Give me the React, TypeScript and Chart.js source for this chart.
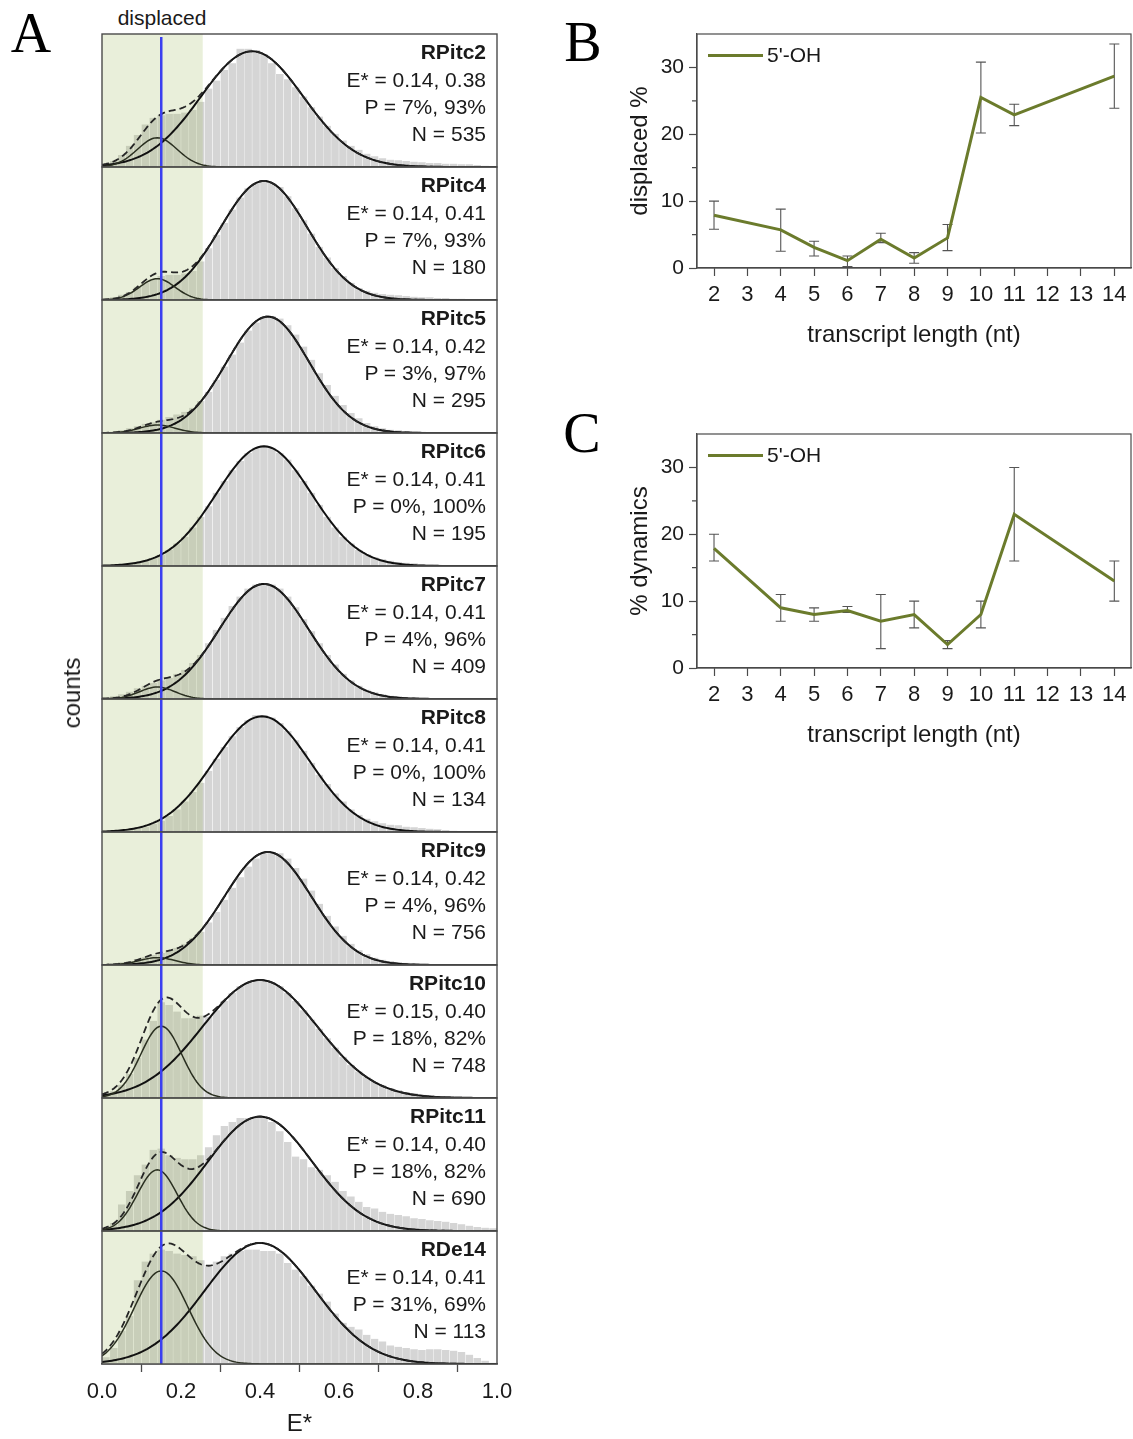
import React, { useEffect, useRef } from "react";
import { Chart, registerables } from "chart.js";

Chart.register(...registerables);

const SANS = "'Liberation Sans', Arial, Helvetica, sans-serif";
const SERIF = "'Liberation Serif', 'Times New Roman', serif";
const OLIVE = "#6b7b2c";
const AXIS = "#4a4a4a";
const TEXT = "#1a1a1a";

// ---------------- Panel A data ----------------
const panelNames = ["RPitc2", "RPitc4", "RPitc5", "RPitc6", "RPitc7", "RPitc8", "RPitc9", "RPitc10", "RPitc11", "RDe14"];
const panelEstar = ["0.14, 0.38", "0.14, 0.41", "0.14, 0.42", "0.14, 0.41", "0.14, 0.41", "0.14, 0.41", "0.14, 0.42", "0.15, 0.40", "0.14, 0.40", "0.14, 0.41"];
const panelPop = ["7%, 93%", "7%, 93%", "3%, 97%", "0%, 100%", "4%, 96%", "0%, 100%", "4%, 96%", "18%, 82%", "18%, 82%", "31%, 69%"];
const panelN = [535, 180, 295, 195, 409, 134, 756, 748, 690, 113];

const binCenters = [0.01, 0.03, 0.05, 0.07, 0.09, 0.11, 0.13, 0.15, 0.17, 0.19, 0.21, 0.23, 0.25, 0.27, 0.29, 0.31, 0.33, 0.35, 0.37, 0.39, 0.41, 0.43, 0.45, 0.47, 0.49, 0.51, 0.53, 0.55, 0.57, 0.59, 0.61, 0.63, 0.65, 0.67, 0.69, 0.71, 0.73, 0.75, 0.77, 0.79, 0.81, 0.83, 0.85, 0.87, 0.89, 0.91, 0.93, 0.95, 0.97, 0.99];

// relative counts (% of panel height)
const histRPitc2 = [3, 4.5, 9, 16, 24, 32, 37, 39, 40, 40, 41, 43, 49, 59, 65, 73, 78, 89, 89, 88, 85, 78, 70, 66, 60, 53, 45, 38, 31, 25, 20, 16, 13, 10, 8, 6.5, 5.5, 5, 4.5, 4, 3.5, 3, 3, 2.5, 2.5, 2, 2, 1.5, 1, 0.5];
const histRPitc4 = [1, 2, 4, 6, 10, 13, 16, 18, 19, 19, 20, 22, 29, 39, 49, 58, 68, 77, 84, 88, 90, 88, 85, 78, 69, 60, 50, 40, 32, 24, 18, 13, 9, 7, 5.5, 4.5, 4, 3.5, 3, 2.5, 2, 2, 1.5, 1.5, 1, 1, 0.8, 0.5, 0.3, 0];
const histRPitc5 = [0.5, 1, 2, 3.5, 5, 7, 8, 10, 12, 14, 16, 19, 24, 31, 40, 50, 59, 68, 77, 83, 87, 88, 86, 81, 74, 65, 55, 45, 36, 28, 21, 15, 11, 7.5, 5, 3.5, 2.5, 2, 1.5, 1.2, 1, 0.8, 0.6, 0.5, 0.4, 0.3, 0.2, 0.1, 0, 0];
const histRPitc6 = [0.4, 0.6, 1, 1.6, 2.6, 4, 6, 8.6, 12, 17, 22, 29, 37, 45, 55, 64, 72, 79, 85, 89, 91, 89, 85, 80, 72, 64, 55, 46, 37, 29, 22, 17, 12, 9, 6.5, 5, 4, 3, 2.5, 2, 1.5, 1.2, 1, 0.8, 0.6, 0.4, 0.3, 0.2, 0.1, 0];
const histRPitc7 = [1, 2, 3.5, 5.5, 8, 10, 12, 14, 16, 19, 22, 27, 33, 42, 52, 61, 70, 77, 83, 86, 87, 86, 83, 77, 69, 60, 51, 42, 33, 26, 19, 14, 10, 7, 5, 3.5, 2.5, 2, 1.5, 1.2, 1, 0.8, 0.6, 0.5, 0.4, 0.3, 0.2, 0.1, 0, 0];
const histRPitc8 = [0.4, 0.6, 1, 1.6, 2.5, 4, 6, 8.5, 12, 17, 23, 30, 37, 46, 55, 64, 72, 79, 84, 88, 88, 86, 82, 76, 69, 61, 52, 43, 36, 29, 23, 17, 13, 10, 8, 6.5, 5.5, 5, 4, 3.5, 3, 2.5, 2, 1.5, 1, 0.8, 0.5, 0.3, 0.1, 0];
const histRPitc9 = [0.5, 1, 2, 3, 4.5, 6, 7.5, 9, 11, 13, 16, 20, 25, 32, 40, 49, 58, 66, 74, 80, 84, 85, 84, 80, 73, 65, 56, 46, 37, 29, 22, 16, 11, 8, 5.5, 4, 3, 2.2, 1.6, 1.2, 1, 0.8, 0.6, 0.4, 0.3, 0.2, 0.1, 0, 0, 0];
const histRPitc10 = [3, 5, 10, 18, 30, 44, 58, 72, 70, 65, 60, 60, 62, 61, 66, 73, 79, 84, 87, 88, 88, 87, 84, 79, 73, 66, 59, 52, 45, 38, 31, 25, 20, 16, 12, 9.5, 7.5, 6, 4.5, 3.5, 2.5, 2, 1.5, 1, 0.8, 0.5, 0.3, 0.2, 0.1, 0];
const histRPitc11 = [2, 6, 20, 30, 42, 50, 61, 62, 57, 55, 54, 54, 57, 63, 72, 79, 82, 85, 85, 85, 85, 82, 75, 67, 56, 54, 48, 46, 42, 37, 30, 26, 22, 18, 17, 14.5, 13, 12, 11, 9.5, 9, 8, 7.5, 7, 6, 5, 4, 3, 2.5, 2];
const histRDe14 = [5, 12, 25, 36, 63, 77, 83, 86, 85, 83, 82, 81, 78, 73, 77, 81, 83, 85, 86, 86, 85, 85, 83, 76, 71, 66, 59, 53, 47, 38, 31, 28, 26, 22, 19, 17, 14, 13, 12, 11, 10.5, 11, 11, 10.5, 10, 9, 7, 4.5, 2.5, 1];
const histograms = [histRPitc2, histRPitc4, histRPitc5, histRPitc6, histRPitc7, histRPitc8, histRPitc9, histRPitc10, histRPitc11, histRDe14];

// two-Gaussian fit parameters (low-FRET "displaced" and main population)
const fitMu1 = [0.14, 0.14, 0.14, 0.14, 0.14, 0.14, 0.14, 0.15, 0.14, 0.15];
const fitSig1 = [0.05, 0.045, 0.045, 0.045, 0.045, 0.045, 0.045, 0.052, 0.05, 0.068];
const fitAmp1 = [22, 16, 6, 0, 9, 0, 5.5, 54, 46, 70];
const fitMu2 = [0.38, 0.41, 0.42, 0.41, 0.41, 0.405, 0.42, 0.40, 0.40, 0.40];
const fitSig2 = [0.13, 0.11, 0.105, 0.12, 0.113, 0.122, 0.11, 0.145, 0.132, 0.14];
const fitAmp2 = [87, 89.5, 87.5, 90, 86.5, 87, 85, 88.7, 86, 91];

const displacedCut = 0.255;
const centerLineE = 0.15;

// ---------------- Panels B / C data ----------------
const lengthsNt = [2, 4, 5, 6, 7, 8, 9, 10, 11, 14];
const displacedPct = [7.9, 5.7, 3.1, 1.1, 4.3, 1.5, 4.5, 25.5, 22.9, 28.7];
const displacedLow = [5.8, 2.5, 1.8, 0.2, 3.8, 0.7, 2.6, 20.2, 21.3, 23.9];
const displacedHigh = [10.0, 8.8, 4.0, 1.8, 5.2, 2.3, 6.5, 30.8, 24.5, 33.5];
const dynamicsPct = [17.9, 9.0, 8.0, 8.6, 7.0, 8.0, 3.5, 8.0, 23.0, 13.0];
const dynamicsLow = [16.0, 7.0, 7.0, 8.3, 2.9, 6.0, 2.9, 6.0, 16.0, 10.0];
const dynamicsHigh = [20.0, 11.0, 9.0, 9.2, 11.0, 10.0, 4.1, 10.0, 30.0, 16.0];
const minorTicksY = [5, 15, 25];
const seriesLabel = "5'-OH";

// ---------------- layout constants ----------------
const PANEL_TOP = 34;
const PANEL_H = 133;
const panelTop = (i: number) => PANEL_TOP + PANEL_H * i;

const gauss = (x: number, mu: number, s: number, a: number) =>
  a * Math.exp(-((x - mu) * (x - mu)) / (2 * s * s));

const curveX = Array.from({ length: 201 }, (_, k) => k / 200);

function HistPanel({ i }: { i: number }) {
  const ref = useRef<HTMLCanvasElement>(null);
  const isLast = i === panelNames.length - 1;
  const h = isLast ? 4 + PANEL_H + 75 : PANEL_H + 8;
  useEffect(() => {
    const bars = histograms[i];
    const big = curveX.map((x) => ({ x, y: gauss(x, fitMu2[i], fitSig2[i], fitAmp2[i]) }));
    const small = curveX.map((x) => ({ x, y: gauss(x, fitMu1[i], fitSig1[i], fitAmp1[i]) }));
    const sum = curveX.map((x, k) => ({ x, y: big[k].y + small[k].y }));
    const datasets: any[] = [];
    if (fitAmp1[i] > 0) {
      datasets.push({ type: "line", data: sum, borderColor: "#262626", borderWidth: 1.8, borderDash: [7, 4], pointRadius: 0, order: 0 });
      datasets.push({ type: "line", data: small, borderColor: "#2a2f20", borderWidth: 1.5, pointRadius: 0, order: 1 });
    }
    datasets.push({ type: "line", data: big, borderColor: "#111", borderWidth: 2, pointRadius: 0, order: 2 });
    datasets.push({
      type: "bar",
      data: binCenters.map((x, k) => ({ x, y: bars[k] })),
      backgroundColor: "#d5d5d5",
      borderColor: "rgba(255,255,255,0.6)",
      borderWidth: { left: 0.5, right: 0.5, top: 0, bottom: 0 },
      barPercentage: 1,
      categoryPercentage: 1,
      order: 10,
    });

    const decor = {
      id: "decor",
      afterDatasetDraw(chart: any, args: any) {
        if (args.meta.type !== "bar") return;
        const { ctx, chartArea: a, scales } = chart;
        const x0 = scales.x.getPixelForValue(0);
        const x1 = scales.x.getPixelForValue(displacedCut);
        ctx.save();
        ctx.fillStyle = "rgba(155,180,85,0.22)";
        ctx.fillRect(x0, a.top, x1 - x0, a.bottom - a.top);
        ctx.restore();
      },
      afterDatasetsDraw(chart: any) {
        const { ctx, chartArea: a, scales } = chart;
        ctx.save();
        const bx = scales.x.getPixelForValue(centerLineE);
        ctx.strokeStyle = "#3b3ff0";
        ctx.lineWidth = 2.5;
        ctx.beginPath();
        ctx.moveTo(bx, a.top + (i === 0 ? 3 : 0));
        ctx.lineTo(bx, a.bottom);
        ctx.stroke();
        ctx.strokeStyle = AXIS;
        ctx.lineWidth = 1.4;
        ctx.strokeRect(a.left, a.top, a.right - a.left, a.bottom - a.top);
        ctx.restore();
      },
    };

    const chart = new Chart(ref.current as HTMLCanvasElement, {
      type: "bar",
      data: { datasets },
      options: {
        responsive: false,
        animation: false,
        layout: { padding: { left: 30, right: 30, top: 4, bottom: isLast ? 0 : 4 } },
        plugins: { legend: { display: false }, tooltip: { enabled: false } },
        scales: {
          x: {
            type: "linear",
            min: 0,
            max: 1,
            offset: false,
            display: isLast,
            afterFit: (s: any) => {
              if (isLast) s.height = 75;
            },
            ticks: {
              stepSize: 0.2,
              maxRotation: 0,
              padding: 7,
              color: TEXT,
              font: { family: SANS, size: 22 },
              callback: (v: any) => Number(v).toFixed(1),
            },
            grid: { drawOnChartArea: false, drawTicks: true, tickLength: 8, tickColor: AXIS, tickWidth: 1.3 },
            border: { display: true, color: AXIS, width: 1.4 },
            title: { display: true, text: "E*", color: TEXT, font: { family: SANS, size: 24 }, padding: { top: 0, bottom: 0 } },
          },
          y: { min: 0, max: 100, display: false },
        },
      } as any,
      plugins: [decor],
    } as any);
    return () => chart.destroy();
  }, [i]);
  return (
    <canvas
      ref={ref}
      width={455}
      height={h}
      style={{ position: "absolute", left: 72, top: panelTop(i) - 4, width: 455, height: h }}
    />
  );
}

function LineChart({ top, values, lows, highs, yTitle }: any) {
  const ref = useRef<HTMLCanvasElement>(null);
  useEffect(() => {
    const errBars = {
      id: "errbars",
      beforeDatasetsDraw(chart: any) {
        const { ctx, scales } = chart;
        ctx.save();
        ctx.strokeStyle = "#555";
        ctx.lineWidth = 1.1;
        lengthsNt.forEach((L, k) => {
          const px = scales.x.getPixelForValue(L);
          const yl = scales.y.getPixelForValue(lows[k]);
          const yh = scales.y.getPixelForValue(highs[k]);
          ctx.beginPath();
          ctx.moveTo(px, yl);
          ctx.lineTo(px, yh);
          ctx.moveTo(px - 5, yl);
          ctx.lineTo(px + 5, yl);
          ctx.moveTo(px - 5, yh);
          ctx.lineTo(px + 5, yh);
          ctx.stroke();
        });
        ctx.restore();
      },
      afterDraw(chart: any) {
        const { ctx, chartArea: a, scales } = chart;
        ctx.save();
        ctx.strokeStyle = AXIS;
        ctx.lineWidth = 1.2;
        ctx.strokeRect(a.left, a.top, a.right - a.left, a.bottom - a.top);
        ctx.beginPath();
        minorTicksY.forEach((v) => {
          const py = scales.y.getPixelForValue(v);
          ctx.moveTo(a.left, py);
          ctx.lineTo(a.left - 5, py);
        });
        ctx.stroke();
        ctx.restore();
      },
    };
    const chart = new Chart(ref.current as HTMLCanvasElement, {
      type: "line",
      data: {
        datasets: [
          {
            label: seriesLabel,
            data: lengthsNt.map((x, k) => ({ x, y: values[k] })),
            borderColor: OLIVE,
            borderWidth: 3,
            pointRadius: 0,
            tension: 0,
          },
        ],
      },
      options: {
        responsive: false,
        animation: false,
        layout: { padding: { top: 20, right: 2, left: 0, bottom: 0 } },
        plugins: { legend: { display: false }, tooltip: { enabled: false } },
        scales: {
          x: {
            type: "linear",
            min: 1.49,
            max: 14.5,
            afterFit: (s: any) => {
              s.height = 80;
            },
            ticks: { stepSize: 1, includeBounds: false, autoSkip: false, maxRotation: 0, padding: 6, color: TEXT, font: { family: SANS, size: 22 } },
            grid: { drawOnChartArea: false, drawTicks: true, tickLength: 8, tickColor: AXIS, tickWidth: 1.2 },
            border: { display: true, color: AXIS, width: 1.2 },
            title: { display: true, text: "transcript length (nt)", color: TEXT, font: { family: SANS, size: 24 }, padding: { top: 0, bottom: -2 } },
          },
          y: {
            min: 0,
            max: 35,
            afterFit: (s: any) => {
              s.width = 107;
            },
            ticks: { stepSize: 10, includeBounds: false, padding: 5, color: TEXT, font: { family: SANS, size: 21 } },
            grid: { drawOnChartArea: false, drawTicks: true, tickLength: 8, tickColor: AXIS, tickWidth: 1.2 },
            border: { display: true, color: AXIS, width: 1.2 },
            title: { display: true, text: yTitle, color: TEXT, font: { family: SANS, size: 24 }, padding: { top: 36, bottom: 0 } },
          },
        },
      } as any,
      plugins: [errBars],
    } as any);
    return () => chart.destroy();
  }, []);
  return (
    <canvas
      ref={ref}
      width={543}
      height={334}
      style={{ position: "absolute", left: 590, top, width: 543, height: 334 }}
    />
  );
}

function Legend({ y }: { y: number }) {
  return (
    <>
      <div style={{ position: "absolute", left: 708, top: y - 1.5, width: 55, height: 3, background: OLIVE }} />
      <div
        style={{
          position: "absolute",
          left: 767,
          top: y,
          transform: "translateY(-50%)",
          fontSize: 21,
          lineHeight: "24px",
          whiteSpace: "nowrap",
        }}
      >
        {seriesLabel}
      </div>
    </>
  );
}

export default function App() {
  const lineOffsets = [18, 45.5, 73, 100];
  return (
    <div
      style={{
        position: "absolute",
        left: 0,
        top: 0,
        width: 1133,
        height: 1439,
        background: "#fff",
        overflow: "hidden",
        fontFamily: SANS,
        color: TEXT,
      }}
    >
      {panelNames.map((_, i) => (
        <HistPanel key={i} i={i} />
      ))}
      {panelNames.map((name, i) => {
        const lines = [name, `E* = ${panelEstar[i]}`, `P = ${panelPop[i]}`, `N = ${panelN[i]}`];
        return lines.map((t, k) => (
          <div
            key={`${i}-${k}`}
            style={{
              position: "absolute",
              right: 1133 - 486,
              top: panelTop(i) + lineOffsets[k] - 13,
              fontSize: 21,
              lineHeight: "26px",
              fontWeight: k === 0 ? "bold" : "normal",
              whiteSpace: "nowrap",
            }}
          >
            {t}
          </div>
        ));
      })}
      <div
        style={{
          position: "absolute",
          left: 162,
          top: 18,
          transform: "translate(-50%,-50%)",
          fontSize: 21,
          lineHeight: "24px",
          whiteSpace: "nowrap",
        }}
      >
        displaced
      </div>
      <div
        style={{
          position: "absolute",
          left: 72,
          top: 693,
          transform: "translate(-50%,-50%) rotate(-90deg)",
          fontSize: 24,
          lineHeight: "28px",
          whiteSpace: "nowrap",
        }}
      >
        counts
      </div>

      <LineChart top={14} values={displacedPct} lows={displacedLow} highs={displacedHigh} yTitle="displaced %" />
      <LineChart top={414} values={dynamicsPct} lows={dynamicsLow} highs={dynamicsHigh} yTitle="% dynamics" />
      <Legend y={55} />
      <Legend y={455} />

      {[
        ["A", 31, 33],
        ["B", 583, 42],
        ["C", 582, 433],
      ].map(([t, x, y]) => (
        <div
          key={t as string}
          style={{
            position: "absolute",
            left: x as number,
            top: y as number,
            transform: "translate(-50%,-50%)",
            fontFamily: SERIF,
            fontSize: 56,
            lineHeight: "56px",
            color: "#000",
          }}
        >
          {t}
        </div>
      ))}
    </div>
  );
}
